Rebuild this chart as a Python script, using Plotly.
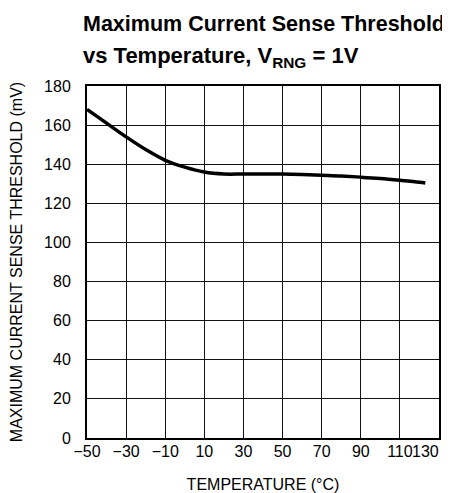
import plotly.graph_objects as go

temps = [-50, -40, -30, -20, -10, 0, 10, 20, 30, 40, 50, 60, 70, 80, 90, 100, 110, 120, 123]
threshold = [168, 161, 154, 147.5, 142, 138.5, 136, 135, 135, 135, 135, 134.8, 134.4, 134, 133.4, 132.7, 131.8, 130.8, 130.4]

x_ticks = [-50, -30, -10, 10, 30, 50, 70, 90, 110, 130]
x_tick_text = ["\u221250", "\u221230", "\u221210", "10", "30", "50", "70", "90", "110", "130"]
y_ticks = [0, 20, 40, 60, 80, 100, 120, 140, 160, 180]

FONT = "Liberation Sans, Arial, sans-serif"
# page body has an 8px margin; figure coordinates = screen coordinates - 8
W, H = 442, 485
L, R, T, B = 79, 11, 78, 55
PW = W - L - R
PH = H - T - B
OFF = 8

def px(screen_x):
    return (screen_x - OFF - L) / PW

def py(screen_y):
    return (H - B - (screen_y - OFF)) / PH

fig = go.Figure()
fig.add_trace(go.Scatter(
    x=temps, y=threshold, mode="lines",
    line=dict(color="black", width=3.5, shape="spline", smoothing=1.0),
    showlegend=False, hoverinfo="skip"))

fig.add_annotation(
    text="<b>Maximum Current Sense Threshold</b>",
    xref="paper", yref="paper", x=px(81), y=py(24),
    xanchor="left", yanchor="middle", showarrow=False,
    font=dict(family=FONT, size=21.5, color="black"))
fig.add_annotation(
    text="<b>vs Temperature, V<sub>RNG</sub> = 1V</b>",
    xref="paper", yref="paper", x=px(81), y=py(57),
    xanchor="left", yanchor="middle", showarrow=False,
    font=dict(family=FONT, size=22, color="black"))

# last x tick label drawn right-aligned at the axis end so it stays inside the window
fig.add_annotation(
    text=x_tick_text[-1], xref="x", x=x_ticks[-1], yref="paper", y=py(451),
    xanchor="right", yanchor="middle", xshift=2, showarrow=False,
    font=dict(family=FONT, size=16, color="black"))

fig.update_layout(
    width=W, height=H,
    margin=dict(l=L, r=R, t=T, b=B, autoexpand=False),
    paper_bgcolor="white", plot_bgcolor="white",
    font=dict(family=FONT, color="black", size=16),
)
fig.update_xaxes(
    range=[-50, 130], tickmode="array", tickvals=x_ticks,
    ticktext=x_tick_text[:-1] + [""],
    showgrid=True, gridcolor="#111111", gridwidth=1,
    showline=True, linecolor="black", linewidth=2, mirror=True,
    ticks="", zeroline=False, ticklabeloverflow="allow", ticklabelstandoff=-2,
    automargin=False,
    title=dict(text="TEMPERATURE (\u00b0C)", font=dict(size=16), standoff=20),
    tickfont=dict(size=16))
fig.update_yaxes(
    range=[0, 180], tickmode="array", tickvals=y_ticks,
    showgrid=True, gridcolor="#111111", gridwidth=1,
    showline=True, linecolor="black", linewidth=2, mirror=True,
    ticks="", zeroline=False, ticklabelstandoff=11, automargin=False,
    title=dict(text="MAXIMUM CURRENT SENSE THRESHOLD (mV)", font=dict(size=16), standoff=18),
    tickfont=dict(size=16))

fig.write_html("out.html")
